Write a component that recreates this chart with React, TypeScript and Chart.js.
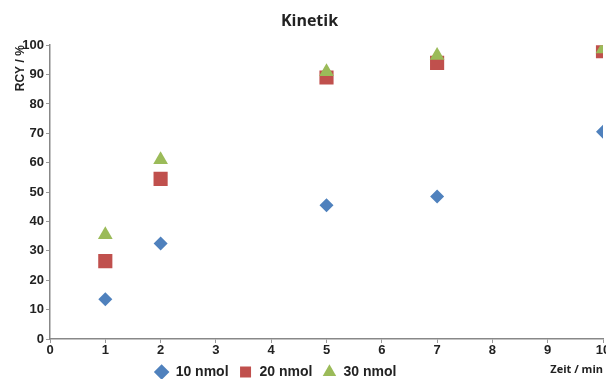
import React, { useEffect, useRef } from "react";
import { Chart, registerables } from "chart.js";

Chart.register(...registerables);

const timesMin = [1, 2, 5, 7, 10];
const rcy10 = [13.5, 32.5, 45.5, 48.5, 70.5];
const rcy20 = [26.5, 54.5, 89, 94, 98];
const rcy30 = [35.5, 61, 91, 96.5, 98.7];
const seriesLabels = ["10 nmol", "20 nmol", "30 nmol"];

const FONT = "'Liberation Sans', Arial, sans-serif";

const xTitlePlugin = {
  id: "xTitle",
  afterLayout(chart: any) {
    if (chart.titleBlock) {
      chart.titleBlock.left += 8;
      chart.titleBlock.right += 8;
    }
    if (chart.legend) {
      chart.legend.left -= 26;
      chart.legend.right -= 26;
    }
  },
  afterDraw(chart: any) {
    const ctx = chart.ctx;
    const xs = chart.scales.x;
    ctx.save();
    ctx.font = `bold 11px 'Open Sans', sans-serif`;
    ctx.fillStyle = "#222";
    ctx.textAlign = "right";
    ctx.textBaseline = "middle";
    ctx.fillText("Zeit / min", xs.right, 370);
    ctx.restore();
  },
};

export default function App() {
  const ref = useRef<HTMLCanvasElement | null>(null);
  useEffect(() => {
    if (!ref.current) return;
    const mk = (y: number[]) => timesMin.map((t, i) => ({ x: t, y: y[i] }));
    const chart = new Chart(ref.current, {
      type: "scatter",
      data: {
        datasets: [
          { label: seriesLabels[0], data: mk(rcy10), order: 2, pointStyle: "rectRot", pointRadius: 7, backgroundColor: "#4F81BD", borderColor: "#4F81BD", borderWidth: 0 },
          { label: seriesLabels[1], data: mk(rcy20), order: 1, pointStyle: "rect", pointRadius: 10, backgroundColor: "#C0504D", borderColor: "#C0504D", borderWidth: 0 },
          { label: seriesLabels[2], data: mk(rcy30), order: 0, pointStyle: "triangle", pointRadius: 8.5, backgroundColor: "#9BBB59", borderColor: "#9BBB59", borderWidth: 0 },
        ],
      },
      options: {
        animation: false,
        responsive: false,
        maintainAspectRatio: false,
        layout: { padding: { left: 0, right: 22, top: 0, bottom: -10 } },
        plugins: {
          title: {
            display: true,
            text: "Kinetik",
            color: "#222",
            font: { family: "'Open Sans', sans-serif", size: 16, weight: "bold" },
            padding: { top: 12, bottom: 14 },
          },
          legend: {
            position: "bottom",
            labels: {
              usePointStyle: true,
              boxHeight: 11,
              color: "#222",
              font: { family: FONT, size: 14, weight: "bold" },
              padding: 10,
              sort: (a: any, b: any) => a.datasetIndex - b.datasetIndex,
            },
          },
          tooltip: { enabled: false },
        },
        scales: {
          x: {
            type: "linear",
            min: 0,
            max: 10,
            ticks: { stepSize: 1, color: "#222", font: { family: FONT, size: 13, weight: "bold" }, padding: 0 },
            grid: { drawOnChartArea: false, drawTicks: true, tickLength: 4, color: "#999" },
            border: { color: "#888", width: 1.5 },
            afterFit(scale: any) {
              scale.height = 16;
            },
          },
          y: {
            min: 0,
            max: 100,
            ticks: { stepSize: 10, color: "#222", font: { family: FONT, size: 13, weight: "bold" }, padding: 2 },
            grid: { drawOnChartArea: false, drawTicks: true, tickLength: 4, color: "#999" },
            border: { color: "#888", width: 1.5 },
            title: {
              display: true,
              text: "RCY / %",
              align: "end",
              color: "#222",
              font: { family: FONT, size: 12, weight: "bold" },
              padding: { top: 13, bottom: 0 },
            },
            afterFit(scale: any) {
              scale.width = 50;
            },
          },
        },
      },
      plugins: [xTitlePlugin],
    });
    return () => chart.destroy();
  }, []);
  return (
    <div style={{ position: "fixed", left: 0, top: 0, width: 606, height: 379, overflow: "hidden", background: "#fff" }}>
      <canvas ref={ref} width={625} height={379} style={{ display: "block" }} />
    </div>
  );
}
